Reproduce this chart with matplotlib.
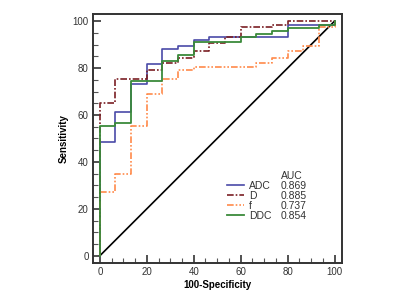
import numpy as np
import matplotlib
matplotlib.use("Agg")
import matplotlib.pyplot as plt

plt.rcParams['font.family'] = ['Liberation Sans', 'DejaVu Sans']

# ROC steps (100-specificity, sensitivity)
adc_x = [0, 0, 6.67, 13.33, 20, 26.67, 33.33, 40, 46.67, 80, 100]
adc_y = [0, 48.7, 61.2, 73.2, 81.8, 88.1, 89.6, 92.0, 93.4, 98.5, 100]

d_x = [0, 0, 6.67, 20, 26.67, 33.33, 40, 46.67, 53.33, 60, 73.33, 80, 100]
d_y = [0, 65.0, 75.4, 79.2, 82.1, 84.5, 87.1, 90.6, 93.4, 97.3, 98.5, 100, 100]

f_x = [0, 0, 6.67, 13.33, 20, 26.67, 33.33, 40, 66.67, 73.33, 80, 86.67, 93.33, 100]
f_y = [0, 27.0, 34.9, 55.1, 69.0, 75.3, 79.0, 80.6, 82.1, 84.5, 87.1, 89.6, 97.3, 100]

ddc_x = [0, 0, 6.67, 13.33, 26.67, 33.33, 40, 60, 66.67, 73.33, 80, 93.33, 100]
ddc_y = [0, 55.1, 56.5, 74.3, 82.8, 85.6, 90.9, 93.2, 94.6, 95.7, 96.9, 98.4, 100]

names = ["ADC", "D", "f", "DDC"]
aucs = ["0.869", "0.885", "0.737", "0.854"]

fig = plt.figure(figsize=(4, 3), dpi=100)
ax = fig.add_axes([0.232, 0.124, 0.622, 0.829])

ax.plot([0, 100], [0, 100], color="black", lw=1.2)
h1, = ax.step(adc_x, adc_y, where="post", color="#4a4aa8", lw=1.2)
h2, = ax.step(d_x, d_y, where="post", color="#7a1f24", lw=1.2, ls=(0, (4, 1.2, 1, 1.2)))
h3, = ax.step(f_x, f_y, where="post", color="#ff8a4a", lw=1.2, ls=(0, (4, 1.2, 1, 1.2, 1, 1.2)))
h4, = ax.step(ddc_x, ddc_y, where="post", color="#3a8a3a", lw=1.3)

ax.set_xlim(-3, 103)
ax.set_ylim(-3, 103)
ax.set_xticks(np.arange(0, 101, 20))
ax.set_yticks(np.arange(0, 101, 20))
ax.set_xticks(np.arange(0, 101, 5), minor=True)
ax.set_yticks(np.arange(0, 101, 5), minor=True)
ax.tick_params(which="major", direction="in", length=6, width=1.2, color="#333333",
               labelsize=7, labelcolor="#333333", pad=3)
ax.tick_params(which="minor", direction="in", length=3.5, width=0.8, color="#555555")
for s in ax.spines.values():
    s.set_linewidth(1.4)
    s.set_color("#333333")

ax.set_xlabel("100-Specificity", fontsize=7, fontweight="bold", labelpad=2)
ax.set_ylabel("Sensitivity", fontsize=7, fontweight="bold", labelpad=3)

leg = ax.legend([h1, h2, h3, h4], names, loc="upper left", bbox_to_anchor=(0.54, 0.33),
                frameon=False, fontsize=7.5, handlelength=1.6, handletextpad=0.5,
                labelspacing=0.0, borderpad=0, borderaxespad=0)
for t in leg.get_texts():
    t.set_color("#333333")

ax.text(0.756, 0.35, "AUC", transform=ax.transAxes, fontsize=7.5, color="#333333",
        va="center", ha="left")
for i, a in enumerate(aucs):
    ax.text(0.756, 0.308 - 0.0402 * i, a, transform=ax.transAxes, fontsize=7.5,
            color="#333333", va="center", ha="left")

fig.savefig("out.png", dpi=100)
